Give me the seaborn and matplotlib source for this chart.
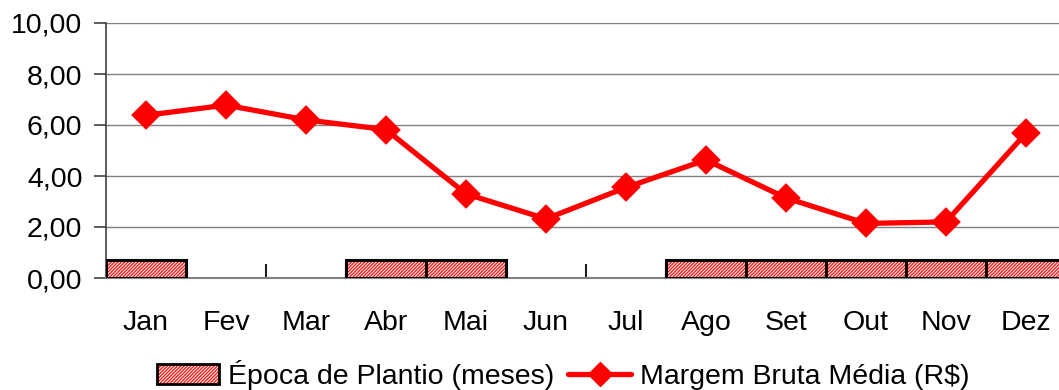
import matplotlib
matplotlib.use("Agg")
import matplotlib.pyplot as plt
from matplotlib.legend_handler import HandlerTuple
from matplotlib.lines import Line2D
from matplotlib.patches import Patch
from matplotlib.ticker import FixedLocator, FuncFormatter
import pandas as pd
import seaborn as sns

months = ["Jan", "Fev", "Mar", "Abr", "Mai", "Jun",
          "Jul", "Ago", "Set", "Out", "Nov", "Dez"]
margin = [6.38, 6.78, 6.20, 5.82, 3.30, 2.32,
          3.55, 4.63, 3.14, 2.14, 2.20, 5.68]
planting_months = ["Jan", "Abr", "Mai", "Ago", "Set", "Out", "Nov", "Dez"]
planting_level = [0.7] * len(planting_months)

FS = 20.5
HATCH = "//////////"

sns.set_theme(style="white")
plt.rcParams["font.family"] = ["Liberation Sans", "DejaVu Sans"]
plt.rcParams["hatch.linewidth"] = 1.0
plt.rcParams["text.color"] = "black"

fig = plt.figure(figsize=(10.59, 3.90), dpi=100)
ax = fig.add_axes([106 / 1059, 1 - 278 / 390, 960 / 1059, 255 / 390])

df_bar = pd.DataFrame({"mes": planting_months, "epoca": planting_level})
df_line = pd.DataFrame({"mes": months, "margem": margin})

# hatched fill of the planting-season bars
sns.barplot(data=df_bar, x="mes", y="epoca", order=months, width=1.0,
            color="white", edgecolor="#ff1a1a", linewidth=0, hatch=HATCH,
            saturation=1, errorbar=None, ax=ax, zorder=2)
# black outline on top of the hatch
sns.barplot(data=df_bar, x="mes", y="epoca", order=months, width=1.0,
            fill=False, edgecolor="black", linewidth=2.2,
            errorbar=None, ax=ax, zorder=3)

sns.pointplot(data=df_line, x="mes", y="margem", order=months,
              color="#ff0000", markers="D", markersize=12, linewidth=3.8,
              errorbar=None, ax=ax, zorder=4)

ax.set_xlim(-0.5, 11.5)
ax.set_ylim(0, 10)
ax.set_yticks([0, 2, 4, 6, 8, 10])
ax.yaxis.set_major_formatter(FuncFormatter(lambda v, p: f"{v:.2f}".replace(".", ",")))
ax.set_xlabel("")
ax.set_ylabel("")

ax.grid(axis="y", color="#808080", linewidth=1.0, zorder=0)
ax.grid(axis="x", visible=False)
ax.set_axisbelow(True)

for side in ["top", "right"]:
    ax.spines[side].set_visible(False)
ax.spines["left"].set_color("#404040")
ax.spines["left"].set_linewidth(1.2)
ax.spines["bottom"].set_color("#808080")
ax.spines["bottom"].set_linewidth(1.5)

ax.tick_params(axis="y", which="major", direction="out", length=9, width=1.2,
               color="#404040", pad=8, labelsize=FS, left=True)
ax.tick_params(axis="x", which="major", length=0, pad=23, labelsize=FS)
ax.xaxis.set_minor_locator(FixedLocator([i + 0.5 for i in range(11)]))
ax.tick_params(axis="x", which="minor", direction="in", length=10, width=1.5,
               color="#202020", bottom=True)
for lbl in ax.get_xticklabels() + ax.get_yticklabels():
    lbl.set_color("black")

bar_handle = (Patch(facecolor="white", edgecolor="#ff1a1a", hatch=HATCH, linewidth=0),
              Patch(facecolor="none", edgecolor="black", linewidth=2.0))
line_handle = Line2D([], [], color="#ff0000", linewidth=3.8, marker="D", markersize=12)
leg = fig.legend([bar_handle, line_handle],
                 ["Época de Plantio (meses)", "Margem Bruta Média (R$)"],
                 handler_map={tuple: HandlerTuple(ndivide=1)},
                 loc="center", bbox_to_anchor=(563 / 1059, 1 - 375 / 390), ncol=2,
                 frameon=False, fontsize=FS, handlelength=2.2, handleheight=0.75,
                 handletextpad=0.3, columnspacing=0.5, borderaxespad=0, borderpad=0)
for t in leg.get_texts():
    t.set_color("black")

fig.savefig("out.png", dpi=100)
